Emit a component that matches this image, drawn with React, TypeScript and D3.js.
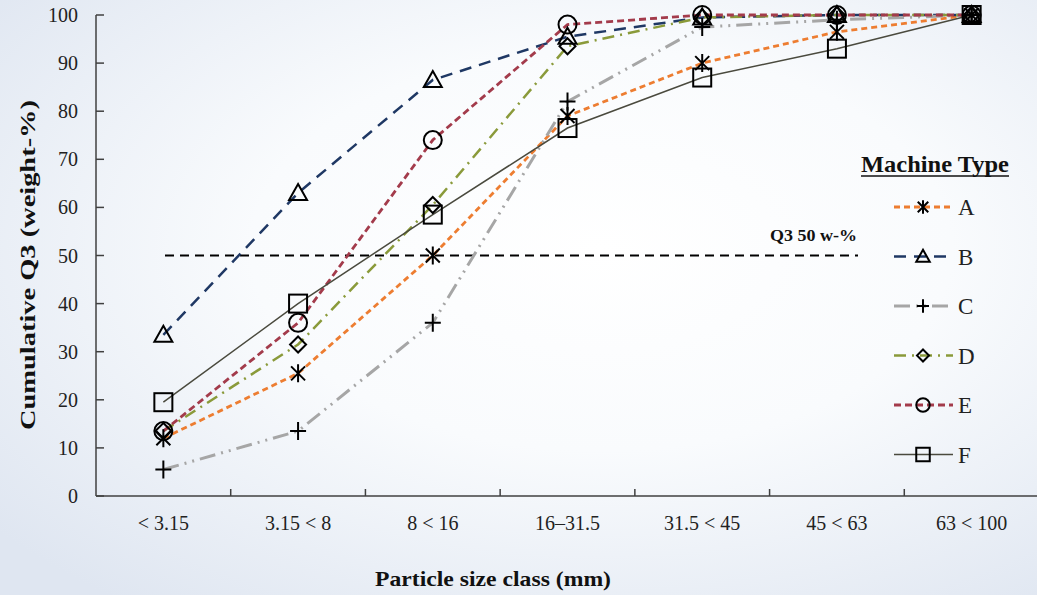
import React from "react";
import * as d3 from "d3";

const categories = ["< 3.15", "3.15 < 8", "8 < 16", "16–31.5", "31.5 < 45", "45 < 63", "63 < 100"];
const yTicks = [0, 10, 20, 30, 40, 50, 60, 70, 80, 90, 100];
const seriesNames = ["A", "B", "C", "D", "E", "F"];
const valuesA = [12, 25.5, 50, 79, 90, 96.5, 100];
const valuesB = [33.5, 63, 86.5, 95.5, 99.5, 100, 100];
const valuesC = [5.5, 13.5, 36, 82, 97.5, 99, 100];
const valuesD = [13.5, 31.5, 60.5, 93.5, 99.5, 100, 100];
const valuesE = [13.5, 36, 74, 98, 100, 100, 100];
const valuesF = [19.5, 40, 58.5, 76.5, 87, 93, 100];
const refValue = 50;
const refLabel = "Q3 50 w-%";

const W = 1037;
const H = 595;
const FONT = "Liberation Serif, Times New Roman, Times, serif";

type Style = { color: string; dash: string; width: number; marker: string };
const styles: Style[] = [
  { color: "#ED7D31", dash: "6,4", width: 2.8, marker: "asterisk" },
  { color: "#1F3864", dash: "12,8", width: 2.5, marker: "triangle" },
  { color: "#A6A6A6", dash: "16,6,2,6,2,6", width: 3, marker: "plus" },
  { color: "#8A9A3A", dash: "12,6,2,6", width: 2.5, marker: "diamond" },
  { color: "#A33B4B", dash: "7,4", width: 2.8, marker: "circle" },
  { color: "#4A4A3E", dash: "", width: 1.5, marker: "square" },
];

function Marker({ type, x, y, s = 1 }: { type: string; x: number; y: number; s?: number }) {
  const common = { fill: "none", stroke: "#000", strokeWidth: 2 };
  const k = (v: number) => v * s;
  switch (type) {
    case "asterisk":
      return (
        <path
          {...common}
          d={`M${x - k(7)},${y - k(7)}L${x + k(7)},${y + k(7)}M${x + k(7)},${y - k(7)}L${x - k(7)},${y + k(7)}M${x},${y - k(9)}L${x},${y + k(9)}`}
        />
      );
    case "triangle":
      return <path {...common} d={`M${x},${y - k(9)}L${x + k(9)},${y + k(7)}L${x - k(9)},${y + k(7)}Z`} />;
    case "plus":
      return <path {...common} d={`M${x - k(8)},${y}L${x + k(8)},${y}M${x},${y - k(9)}L${x},${y + k(9)}`} />;
    case "diamond":
      return <path {...common} d={`M${x},${y - k(8)}L${x + k(8)},${y}L${x},${y + k(8)}L${x - k(8)},${y}Z`} />;
    case "circle":
      return <circle {...common} cx={x} cy={y} r={k(9)} />;
    default:
      return <rect {...common} x={x - k(9)} y={y - k(9)} width={k(18)} height={k(18)} />;
  }
}

export default function App() {
  const allValues = [valuesA, valuesB, valuesC, valuesD, valuesE, valuesF];
  const x = d3.scaleBand<string>().domain(categories).range([96, 1039]);
  const y = d3.scaleLinear().domain([0, 100]).range([496, 15]);
  const cx = (c: string) => (x(c) as number) + x.bandwidth() / 2;
  const line = d3
    .line<number>()
    .x((_, i) => cx(categories[i]))
    .y((v) => y(v));
  const boundaries = categories.slice(1).map((c) => x(c) as number);

  const legendY0 = 207;
  const legendStep = 49.5;
  const tf = { fontFamily: FONT };

  return (
    <svg width={W} height={H} style={{ position: "absolute", left: 0, top: 0, fontFamily: FONT }}>
      <defs>
        <radialGradient id="bg" cx="0.58" cy="0.42" r="0.75">
          <stop offset="0" stopColor="#ffffff" />
          <stop offset="0.45" stopColor="#f9fbfd" />
          <stop offset="1" stopColor="#dfe6f1" />
        </radialGradient>
      </defs>
      <rect x={0} y={0} width={W} height={H} fill="url(#bg)" />

      {/* axes */}
      <line x1={96} x2={96} y1={y(100)} y2={y(0)} stroke="#404040" strokeWidth={1.5} />
      <line x1={96} x2={W} y1={y(0)} y2={y(0)} stroke="#404040" strokeWidth={1.5} />
      {yTicks.map((t) => (
        <g key={t}>
          <line x1={96} x2={104} y1={y(t)} y2={y(t)} stroke="#404040" strokeWidth={1.5} />
          <text style={tf} x={78} y={y(t)} dy="0.35em" textAnchor="end" fontSize={20} fill="#222">
            {t}
          </text>
        </g>
      ))}
      {boundaries.map((b, i) => (
        <line key={i} x1={b} x2={b} y1={y(0)} y2={y(0) - 7} stroke="#404040" strokeWidth={1.5} />
      ))}
      {categories.map((c) => (
        <text style={tf} key={c} x={cx(c)} y={530} textAnchor="middle" fontSize={20} fill="#222">
          {c}
        </text>
      ))}

      <text
        style={tf}
        x={493}
        y={586}
        textAnchor="middle"
        fontSize={21}
        fontWeight="bold"
        fill="#111"
        textLength={236}
        lengthAdjust="spacingAndGlyphs"
      >
        Particle size class (mm)
      </text>
      <text
        style={tf}
        transform={`translate(35,265) rotate(-90)`}
        textAnchor="middle"
        fontSize={22}
        fontWeight="bold"
        fill="#111"
        textLength={330}
        lengthAdjust="spacingAndGlyphs"
      >
        Cumulative Q3 (weight-%)
      </text>

      {/* reference line */}
      <line x1={165} x2={858} y1={y(refValue)} y2={y(refValue)} stroke="#000" strokeWidth={2} strokeDasharray="9,6" />
      <text
        style={tf}
        x={857}
        y={241}
        textAnchor="end"
        fontSize={16}
        fontWeight="bold"
        fill="#111"
        textLength={87}
        lengthAdjust="spacingAndGlyphs"
      >
        {refLabel}
      </text>

      {/* series */}
      {allValues.map((vals, si) => (
        <path
          key={si}
          d={line(vals) as string}
          fill="none"
          stroke={styles[si].color}
          strokeWidth={styles[si].width}
          strokeDasharray={styles[si].dash || undefined}
        />
      ))}
      {allValues.map((vals, si) =>
        vals.map((v, i) => <Marker key={`${si}-${i}`} type={styles[si].marker} x={cx(categories[i])} y={y(v)} />)
      )}

      {/* legend */}
      <text
        style={tf}
        x={935}
        y={172}
        textAnchor="middle"
        fontSize={23}
        fontWeight="bold"
        fill="#111"
        textLength={148}
        lengthAdjust="spacingAndGlyphs"
      >
        Machine Type
      </text>
      <line x1={861} x2={1009} y1={176} y2={176} stroke="#111" strokeWidth={1.5} />
      {seriesNames.map((n, i) => {
        const ly = legendY0 + i * legendStep;
        const s = styles[i];
        return (
          <g key={n}>
            <line
              x1={894}
              x2={953}
              y1={ly}
              y2={ly}
              stroke={s.color}
              strokeWidth={s.width}
              strokeDasharray={s.dash || undefined}
            />
            <Marker type={s.marker} x={923} y={ly} s={0.75} />
            <text style={tf} x={958} y={ly} dy="0.35em" fontSize={23} fill="#222">
              {n}
            </text>
          </g>
        );
      })}
    </svg>
  );
}
